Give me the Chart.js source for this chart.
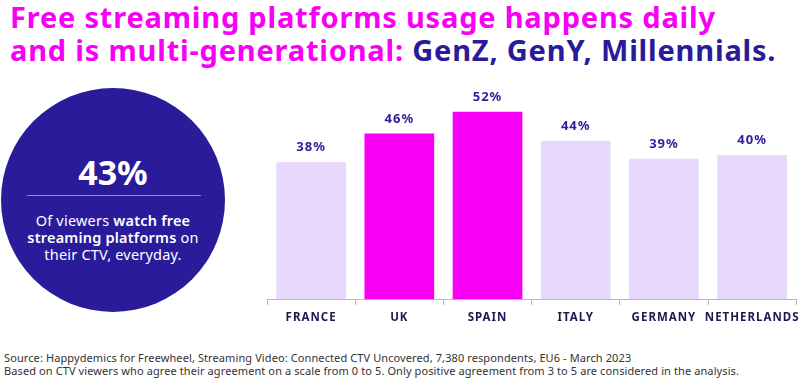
<!DOCTYPE html>
<html>
<head>
<meta charset="utf-8">
<script src="https://cdn.jsdelivr.net/npm/chart.js@4"></script>
<style>
    body { margin: 0; width: 800px; height: 378px; background: #fff; position: relative; overflow: hidden; font-family: "Noto Sans", sans-serif; }
    .title { position: absolute; left: 10px; top: 0; font-size: 29px; font-weight: 700; line-height: 33px; color: #f700f5; letter-spacing: 0.8px; }
    .title span { color: #2a1b9b; }
    .circle { position: absolute; left: 1px; top: 88px; width: 224px; height: 224px; border-radius: 50%; background: #2a1b9b; color: #fff; text-align: center; }
    .big { position: absolute; top: 64px; left: 0; width: 224px; font-size: 34px; font-weight: 700; line-height: 40px; }
    .rule { position: absolute; top: 107px; left: 26px; width: 174px; height: 1px; background: #8e86d4; }
    .sub { position: absolute; top: 124px; left: 0; width: 224px; font-size: 14.5px; line-height: 17px; letter-spacing: 0.2px; }
    .sub b { font-weight: 600; }
    .foot { position: absolute; left: 4px; top: 351px; font-size: 11px; line-height: 13px; color: #333; letter-spacing: 0.1px; }
    #wrap { position: absolute; left: 0; top: 0; width: 800px; height: 331px; }
</style>
</head>
<body>
<div class="title">Free streaming platforms usage happens daily<br>and is multi-generational: <span>GenZ, GenY, Millennials.</span></div>
<div class="circle">
    <div class="big">43%</div>
    <div class="rule"></div>
    <div class="sub">Of viewers <b>watch free<br>streaming platforms</b> on<br>their CTV, everyday.</div>
</div>
<div id="wrap"><canvas id="barChart"></canvas></div>
<div class="foot">Source: Happydemics for Freewheel, Streaming Video: Connected CTV Uncovered, 7,380 respondents, EU6 - March 2023<br>Based on CTV viewers who agree their agreement on a scale from 0 to 5. Only positive agreement from 3 to 5 are considered in the analysis.</div>
<script>
const countries = ['FRANCE', 'UK', 'SPAIN', 'ITALY', 'GERMANY', 'NETHERLANDS'];
const usage = [38, 46, 52, 44, 39, 40];
const highlighted = [false, true, true, false, false, false];

const barColors = highlighted.map(h => h ? '#f700f5' : '#e7d8fc');

// draws the "38%" style labels above each bar
const valueLabels = {
    id: 'valueLabels',
    afterDatasetsDraw(chart) {
        const ctx = chart.ctx;
        const meta = chart.getDatasetMeta(0);
        ctx.save();
        ctx.font = '700 13px "Noto Sans", sans-serif';
        ctx.fillStyle = '#2c1e9c';
        ctx.textAlign = 'center';
        ctx.textBaseline = 'bottom';
        meta.data.forEach(function (bar, i) {
            ctx.fillText(usage[i] + '%', bar.x, bar.y - 8);
        });
        ctx.restore();
    }
};

const spacing = {
    id: 'spacing',
    beforeDraw(chart) {
        chart.ctx.letterSpacing = '1px';
    }
};

new Chart(document.getElementById('barChart'), {
    type: 'bar',
    data: {
        labels: countries,
        datasets: [{
            data: usage,
            backgroundColor: barColors,
            borderWidth: 0,
            categoryPercentage: 0.79,
            barPercentage: 1
        }]
    },
    options: {
        responsive: true,
        maintainAspectRatio: false,
        animation: false,
        layout: { padding: { left: 267, right: 0, top: 83, bottom: 0 } },
        plugins: {
            legend: { display: false },
            tooltip: { enabled: false }
        },
        scales: {
            x: {
                grid: { display: true, drawOnChartArea: false, drawTicks: true, tickLength: 6, color: '#b8b8b8', offset: true },
                border: { color: '#b8b8b8', width: 1 },
                ticks: { color: '#1b1a4f', font: { family: '"Noto Sans", sans-serif', size: 11.5, weight: '700' }, padding: 6, maxRotation: 0, autoSkip: false }
            },
            y: {
                display: false,
                min: 0,
                max: 60
            }
        }
    },
    plugins: [valueLabels, spacing]
});
</script>
</body>
</html>
